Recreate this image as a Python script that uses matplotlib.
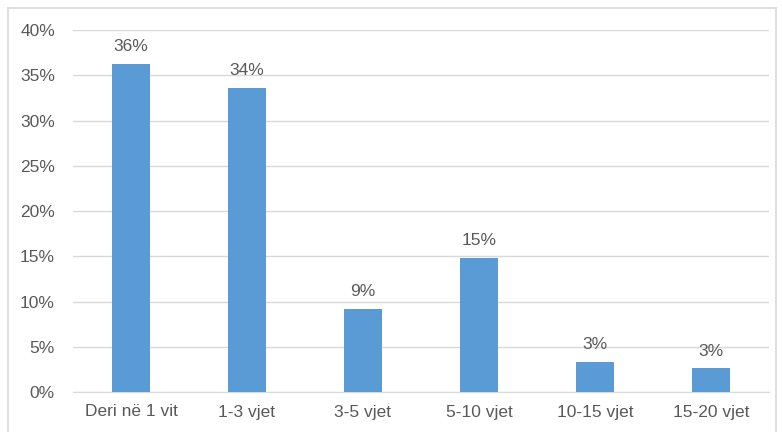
import matplotlib.pyplot as plt
from matplotlib.lines import Line2D

categories = ['Deri në 1 vit', '1-3 vjet', '3-5 vjet', '5-10 vjet', '10-15 vjet', '15-20 vjet']
values = [36.2, 33.6, 9.2, 14.8, 3.3, 2.6]
labels = ['36%', '34%', '9%', '15%', '3%', '3%']
yticks = [0, 5, 10, 15, 20, 25, 30, 35, 40]

plt.rcParams['font.family'] = ['Liberation Sans', 'DejaVu Sans']
txt = '#595959'

fig = plt.figure(figsize=(7.82, 4.32), dpi=100)
ax = fig.add_axes([73/782, 1 - 392/432, 696/782, 362/432])

x = list(range(len(categories)))
ax.bar(x, values, width=0.32, color='#5B9BD5', zorder=3)
for xi, v, lab in zip(x, values, labels):
    ax.text(xi, v + 1.1, lab, ha='center', va='bottom', fontsize=12.5, color=txt)

ax.set_xlim(-0.5, len(categories) - 0.5)
ax.set_ylim(0, 40)
ax.set_yticks(yticks)
ax.set_yticklabels([f'{t}%' for t in yticks])
ax.set_xticks(x)
ax.set_xticklabels(categories)
ax.tick_params(axis='both', length=0, labelsize=12.5, labelcolor=txt)
ax.tick_params(axis='y', pad=13)
ax.tick_params(axis='x', pad=9)
ax.grid(axis='y', color='#D9D9D9', linewidth=1, zorder=0)
for s in ['top', 'right', 'left']:
    ax.spines[s].set_visible(False)
ax.spines['bottom'].set_color('#D9D9D9')

# outer chart frame
fc = '#D9D9D9'
fig.add_artist(Line2D([8/782, 8/782], [0, 1 - 8/432], color=fc, lw=1.2, transform=fig.transFigure))
fig.add_artist(Line2D([8/782, 776/782], [1 - 8/432, 1 - 8/432], color=fc, lw=1.2, transform=fig.transFigure))
fig.add_artist(Line2D([776/782, 776/782], [0, 1 - 8/432], color=fc, lw=1.2, transform=fig.transFigure))

fig.savefig('out.png', dpi=100)
